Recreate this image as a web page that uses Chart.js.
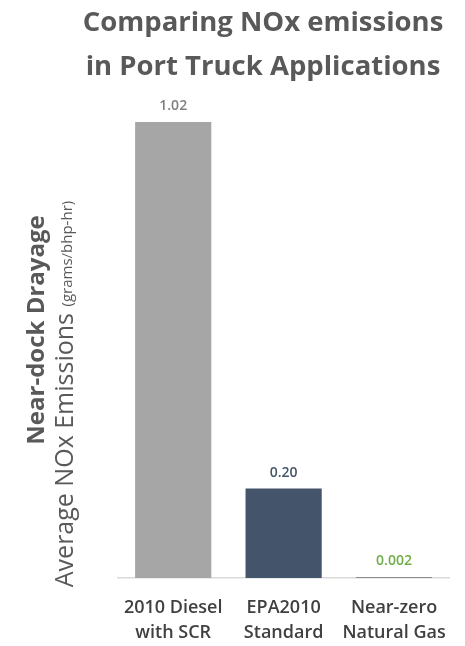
<!DOCTYPE html>
<html>
<head>
<meta charset="utf-8">
<script src="https://cdn.jsdelivr.net/npm/chart.js@4/dist/chart.umd.min.js"></script>
<style>
  html, body { margin: 0; padding: 0; background: #fff; }
  #wrap { width: 465px; height: 646px; }
</style>
</head>
<body>
<div id="wrap"><canvas id="graph1"></canvas></div>
<script>
var categories = [["2010 Diesel", "with SCR"], ["EPA2010", "Standard"], ["Near-zero", "Natural Gas"]];
var emissions = [1.02, 0.20, 0.002];
var valueLabels = ["1.02", "0.20", "0.002"];
var barColors = ["#a6a6a6", "#44546a", "#8c8c8c"];
var labelColors = ["#7f7f7f", "#44546a", "#70ad47"];
var titleLines = ["Comparing NOx emissions", "in Port Truck Applications"];

var FONT = "'Open Sans', 'DejaVu Sans', sans-serif";

// title, value labels and the two-part rotated axis title
var textPlugin = {
    id: "texts",
    afterDraw: function (chart) {
        var ctx = chart.ctx;
        var meta = chart.getDatasetMeta(0);

        ctx.save();
        ctx.fillStyle = "#595959";
        ctx.font = "bold 27.5px " + FONT;
        ctx.textAlign = "center";
        ctx.textBaseline = "middle";
        ctx.fillText(titleLines[0], 263, 23);
        ctx.fillText(titleLines[1], 263, 67);
        ctx.restore();

        ctx.save();
        ctx.font = "600 14px " + FONT;
        ctx.textAlign = "center";
        ctx.textBaseline = "bottom";
        meta.data.forEach(function (bar, i) {
            ctx.fillStyle = labelColors[i];
            ctx.fillText(valueLabels[i], bar.x, bar.y - 9);
        });
        ctx.restore();

        ctx.save();
        ctx.translate(37, 330);
        ctx.rotate(-Math.PI / 2);
        ctx.fillStyle = "#595959";
        ctx.font = "bold 24px " + FONT;
        ctx.textAlign = "center";
        ctx.textBaseline = "middle";
        ctx.fillText("Near-dock Drayage", 0, 0);
        ctx.restore();

        ctx.save();
        ctx.translate(66, 394);
        ctx.rotate(-Math.PI / 2);
        ctx.fillStyle = "#595959";
        ctx.textBaseline = "middle";
        ctx.textAlign = "left";
        var main = "Average NOx Emissions ";
        var unit = "(grams/bhp-hr)";
        ctx.font = "25px " + FONT;
        var w1 = ctx.measureText(main).width;
        ctx.font = "15px " + FONT;
        var w2 = ctx.measureText(unit).width;
        var start = -(w1 + w2) / 2;
        ctx.font = "25px " + FONT;
        ctx.fillText(main, start, 0);
        ctx.font = "15px " + FONT;
        ctx.fillText(unit, start + w1, 2);
        ctx.restore();
    }
};

new Chart(document.getElementById("graph1"), {
    type: "bar",
    data: {
        labels: categories,
        datasets: [
            {
              label: "Average NOx Emissions (grams/bhp-hr)",
              backgroundColor: barColors,
              data: emissions,
              barPercentage: 0.69,
              categoryPercentage: 1.0,
              minBarLength: 1
            }
          ]
        },
        options: {
          responsive: true,
          maintainAspectRatio: false,
          animation: false,
          layout: { padding: { left: 118, right: 14, top: 122, bottom: 0 } },
          plugins: {
            legend: { display: false },
            tooltip: { enabled: false },
            title: { display: false }
          },
          scales: {
            x: {
              afterFit: function (scale) { scale.height = 68; },
              grid: { display: false, drawTicks: false },
              border: { display: true, color: "#d9d9d9", width: 1.5 },
              ticks: {
                color: "#404040",
                padding: 17,
                maxRotation: 0,
                font: { family: FONT, size: 18, weight: "600", lineHeight: 1.4 }
              }
            },
            y: {
              display: false,
              min: 0,
              max: 1.02
            }
          }
        },
        plugins: [textPlugin]
    });
</script>
</body>
</html>
